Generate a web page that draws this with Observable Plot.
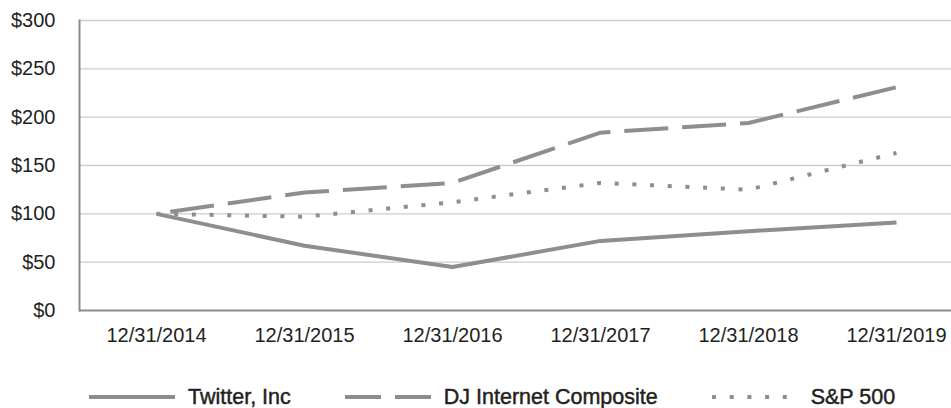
<!DOCTYPE html>
<html>
<head>
<meta charset="utf-8">
<script src="https://cdn.jsdelivr.net/npm/d3@7"></script>
<script src="https://cdn.jsdelivr.net/npm/@observablehq/plot@0.6"></script>
<style>
  html, body { margin: 0; padding: 0; background: #ffffff; }
  #wrap { width: 951px; height: 408px; overflow: hidden; font-family: "Liberation Sans", Arial, sans-serif; color: #231f20; }
  .legend { display: flex; align-items: center; box-sizing: border-box; padding-left: 89px; padding-top: 26px; }
  .item { display: flex; align-items: center; margin-right: 54px; }
  .item span { font-size: 21.5px; margin-left: 13px; line-height: 22px; -webkit-text-stroke: 0.45px #231f20; }
  svg text { paint-order: stroke; }
</style>
</head>
<body>
<div id="wrap"></div>
<script>
// ---- data ----
const years = ["12/31/2014", "12/31/2015", "12/31/2016", "12/31/2017", "12/31/2018", "12/31/2019"];
const twitter = [100, 67, 45, 72, 82, 91];
const djInternet = [100, 122, 132, 184, 194, 231];
const sp500 = [100, 97, 112, 132, 125, 163];
const yTicks = [0, 50, 100, 150, 200, 250, 300];
const seriesNames = ["Twitter, Inc", "DJ Internet Composite", "S&P 500"];

const lineColor = "#8e8e90";
const dashes = [null, "44,14", "4,13.7"];
const offsets = [0, 44, 0];
const seriesValues = [twitter, djInternet, sp500];

const rows = seriesValues.map(vals => years.map((d, i) => ({date: d, value: vals[i]})));

const chart = Plot.plot({
  width: 951,
  height: 360,
  marginLeft: 79,
  marginRight: 0,
  marginTop: 20,
  marginBottom: 50,
  insetLeft: 77,
  insetRight: 55,
  x: {type: "point", domain: years, padding: 0, label: null},
  y: {domain: [0, 300], ticks: yTicks, label: null},
  style: {fontFamily: "'Liberation Sans', Arial, sans-serif", fontSize: "20px", color: "#231f20", background: "#ffffff", overflow: "visible"},
  marks: [
    Plot.ruleY(yTicks.filter(d => d > 0), {stroke: "#cdcdcd", strokeWidth: 1.3}),
    Plot.ruleY([0], {stroke: "#8c8c8c", strokeWidth: 2}),
    Plot.frame({anchor: "left", stroke: "#8c8c8c", strokeWidth: 2}),
    Plot.axisY({ticks: yTicks, tickSize: 0, tickPadding: 24, tickFormat: d => "$" + d, fontSize: 20, stroke: "#231f20", strokeWidth: 0.45}),
    Plot.axisX({tickSize: 0, tickPadding: 17, fontSize: 20, stroke: "#231f20", strokeWidth: 0.45}),
    ...rows.map((data, k) => Plot.line(data, {
      x: "date", y: "value", stroke: lineColor, strokeWidth: 4,
      strokeDasharray: dashes[k], strokeDashoffset: offsets[k],
      strokeLinecap: "butt", strokeLinejoin: "miter"
    }))
  ]
});

const wrap = document.getElementById("wrap");
wrap.appendChild(chart);

// legend
const legend = document.createElement("div");
legend.className = "legend";
seriesNames.forEach((name, k) => {
  const item = document.createElement("div");
  item.className = "item";
  const ns = "http://www.w3.org/2000/svg";
  const s = document.createElementNS(ns, "svg");
  s.setAttribute("width", 86);
  s.setAttribute("height", 8);
  const l = document.createElementNS(ns, "line");
  l.setAttribute("x1", 0); l.setAttribute("x2", 86);
  l.setAttribute("y1", 4); l.setAttribute("y2", 4);
  l.setAttribute("stroke", lineColor);
  l.setAttribute("stroke-width", 4);
  if (k === 1) l.setAttribute("stroke-dasharray", "36,14");
  if (k === 2) l.setAttribute("stroke-dasharray", "4,13.7");
  s.appendChild(l);
  const t = document.createElement("span");
  t.textContent = name;
  item.appendChild(s);
  item.appendChild(t);
  legend.appendChild(item);
});
wrap.appendChild(legend);
</script>
</body>
</html>
